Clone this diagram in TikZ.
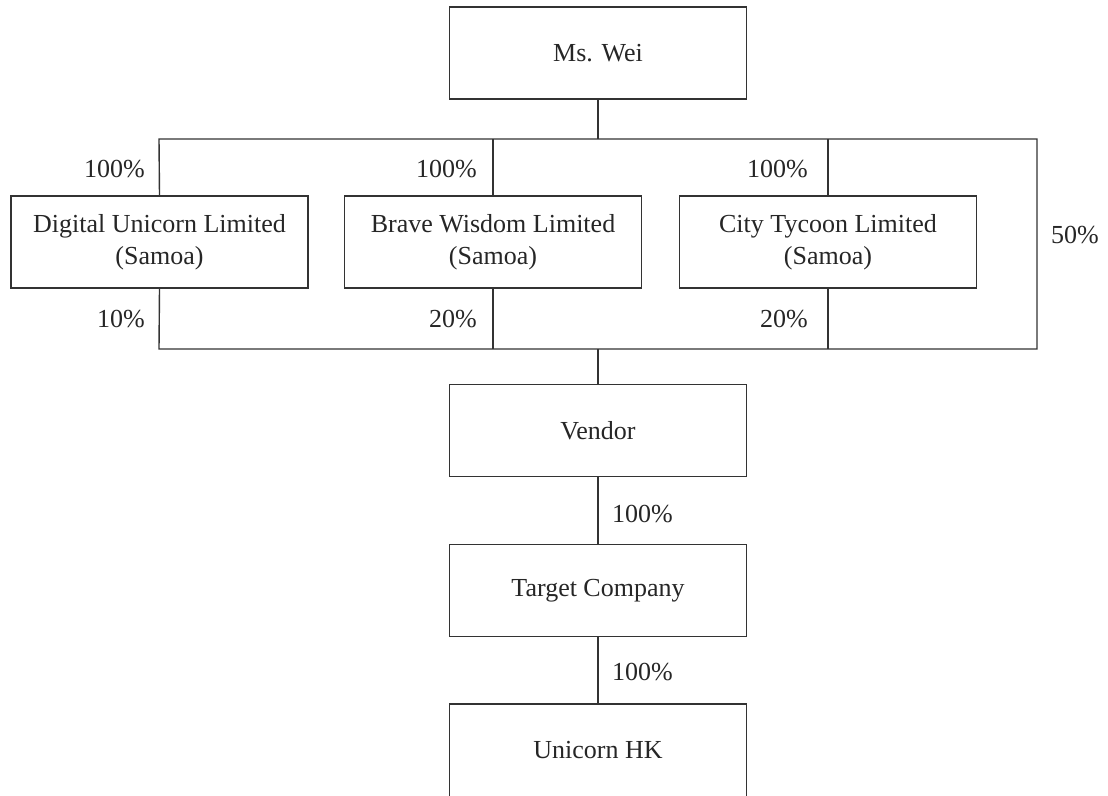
\documentclass[tikz,border=0pt]{standalone}
\usepackage{fontspec}
\setmainfont{Liberation Serif}
\begin{document}
\begin{tikzpicture}[x=1pt,y=-1pt,
  every node/.style={font=\fontsize{26}{32}\selectfont, text=black!85},
  entity/.style={draw=black!80, line width=1.4pt, minimum width=297pt, minimum height=92pt, align=center, inner sep=0pt},
  link/.style={draw=black!80, line width=1.4pt},
  pct/.style={inner sep=0pt}]
\useasboundingbox (0,0) rectangle (1108,795);
\node[entity] (wei) at (598,53) {Ms. Wei};
\node[entity] (du) at (159.5,242) {Digital Unicorn Limited\\(Samoa)};
\node[entity] (bw) at (493,242) {Brave Wisdom Limited\\(Samoa)};
\node[entity] (ct) at (828,242) {City Tycoon Limited\\(Samoa)};
\node[entity] (vendor) at (598,430.5) {Vendor};
\node[entity] (target) at (598,590.5) {Target Company};
\node[entity, minimum height=100pt, text depth=8pt] (hk) at (598,754) {Unicorn HK};
\coordinate (top) at (598,139);
\coordinate (topl) at (159,139);
\coordinate (topr) at (1037,139);
\coordinate (bot) at (598,349);
\coordinate (botl) at (159,349);
\coordinate (botr) at (1037,349);
\draw[link] (wei.south) -- (top);
\draw[link] (du.north) -- (topl) -- (topr) -- (botr) -- (botl) -- (du.south);
\draw[link] (bw.north) -- (bw.north |- top);
\draw[link] (ct.north) -- (ct.north |- top);
\draw[link] (bw.south) -- (bw.south |- bot);
\draw[link] (ct.south) -- (ct.south |- bot);
\draw[link] (bot) -- (vendor.north);
\draw[link] (vendor.south) -- (target.north);
\draw[link] (target.south) -- (hk.north);
\node[pct, anchor=base east] (p1) at (145,177) {100\%};
\node[pct, anchor=base east] (p2) at (477,177) {100\%};
\node[pct, anchor=base east] (p3) at (808,177) {100\%};
\node[pct, anchor=base east] (p4) at (145,327) {10\%};
\node[pct, anchor=base east] (p5) at (477,327) {20\%};
\node[pct, anchor=base east] (p6) at (808,327) {20\%};
\node[pct, anchor=base] (p7) at (1075,243) {50\%};
\node[pct, anchor=base west] (p8) at (612,522) {100\%};
\node[pct, anchor=base west] (p9) at (612,680) {100\%};
\end{tikzpicture}
\end{document}
